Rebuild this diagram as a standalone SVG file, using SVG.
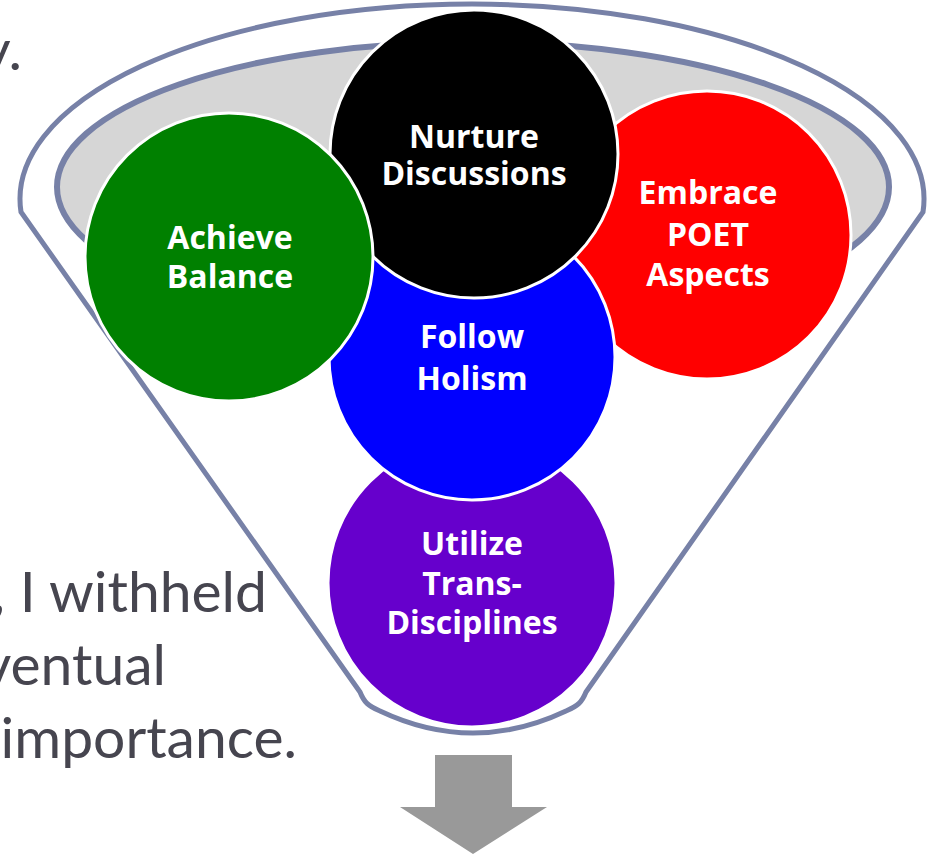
<svg xmlns="http://www.w3.org/2000/svg" width="927" height="854" viewBox="0 0 927 854">
<style>
.body{font-family:Lato,"Open Sans","Liberation Sans",sans-serif;font-size:57px;fill:#46454f}
.lbl{font-family:"Open Sans","Liberation Sans",sans-serif;font-weight:bold;font-size:32px;fill:#ffffff;text-anchor:middle}
.c{stroke:#ffffff;stroke-width:3}
.ol{stroke:#7781a7}
</style>
<rect x="0" y="0" width="927" height="854" fill="#ffffff"/>
<g id="body-text">
<text class="body" x="22" y="70" text-anchor="end">y.</text>
<text class="body" x="267" y="612" text-anchor="end">, I withheld</text>
<text class="body" x="166" y="685" text-anchor="end">ventual</text>
<text class="body" x="297" y="758" text-anchor="end">importance.</text>
</g>
<g id="funnel">
<path d="M 21 212 A 452 195 0 1 1 923 212 L 586 692 C 582 702 578 706 566 711 Q 473 755 380 711 C 368 706 364 702 360 692 Z" fill="#ffffff" class="ol" stroke-width="5"/>
<ellipse cx="473" cy="187" rx="416" ry="145" fill="#d6d6d6" class="ol" stroke-width="6"/>
</g>
<g id="node-utilize">
<circle class="c" cx="472" cy="583" r="144" fill="#6600cc"/>
<text class="lbl" x="472" y="555">Utilize</text>
<text class="lbl" x="472" y="595">Trans-</text>
<text class="lbl" x="472" y="634">Disciplines</text>
</g>
<g id="node-embrace">
<circle class="c" cx="707" cy="235" r="144" fill="#ff0000"/>
<text class="lbl" x="708" y="204">Embrace</text>
<text class="lbl" x="708" y="246">POET</text>
<text class="lbl" x="708" y="286">Aspects</text>
</g>
<g id="node-follow">
<circle class="c" cx="472" cy="357" r="143" fill="#0000ff"/>
<text class="lbl" x="472" y="348">Follow</text>
<text class="lbl" x="472" y="390">Holism</text>
</g>
<g id="node-nurture">
<circle class="c" cx="474" cy="154" r="144" fill="#000000"/>
<text class="lbl" x="474" y="148">Nurture</text>
<text class="lbl" x="474" y="185">Discussions</text>
</g>
<g id="node-achieve">
<circle class="c" cx="229" cy="257" r="144" fill="#008000"/>
<text class="lbl" x="230" y="249">Achieve</text>
<text class="lbl" x="230" y="288">Balance</text>
</g>
<g id="connectors">
<polygon points="435,755 512,755 512,807 547,807 473,854 400,807 435,807" fill="#999999"/>
</g>
</svg>
